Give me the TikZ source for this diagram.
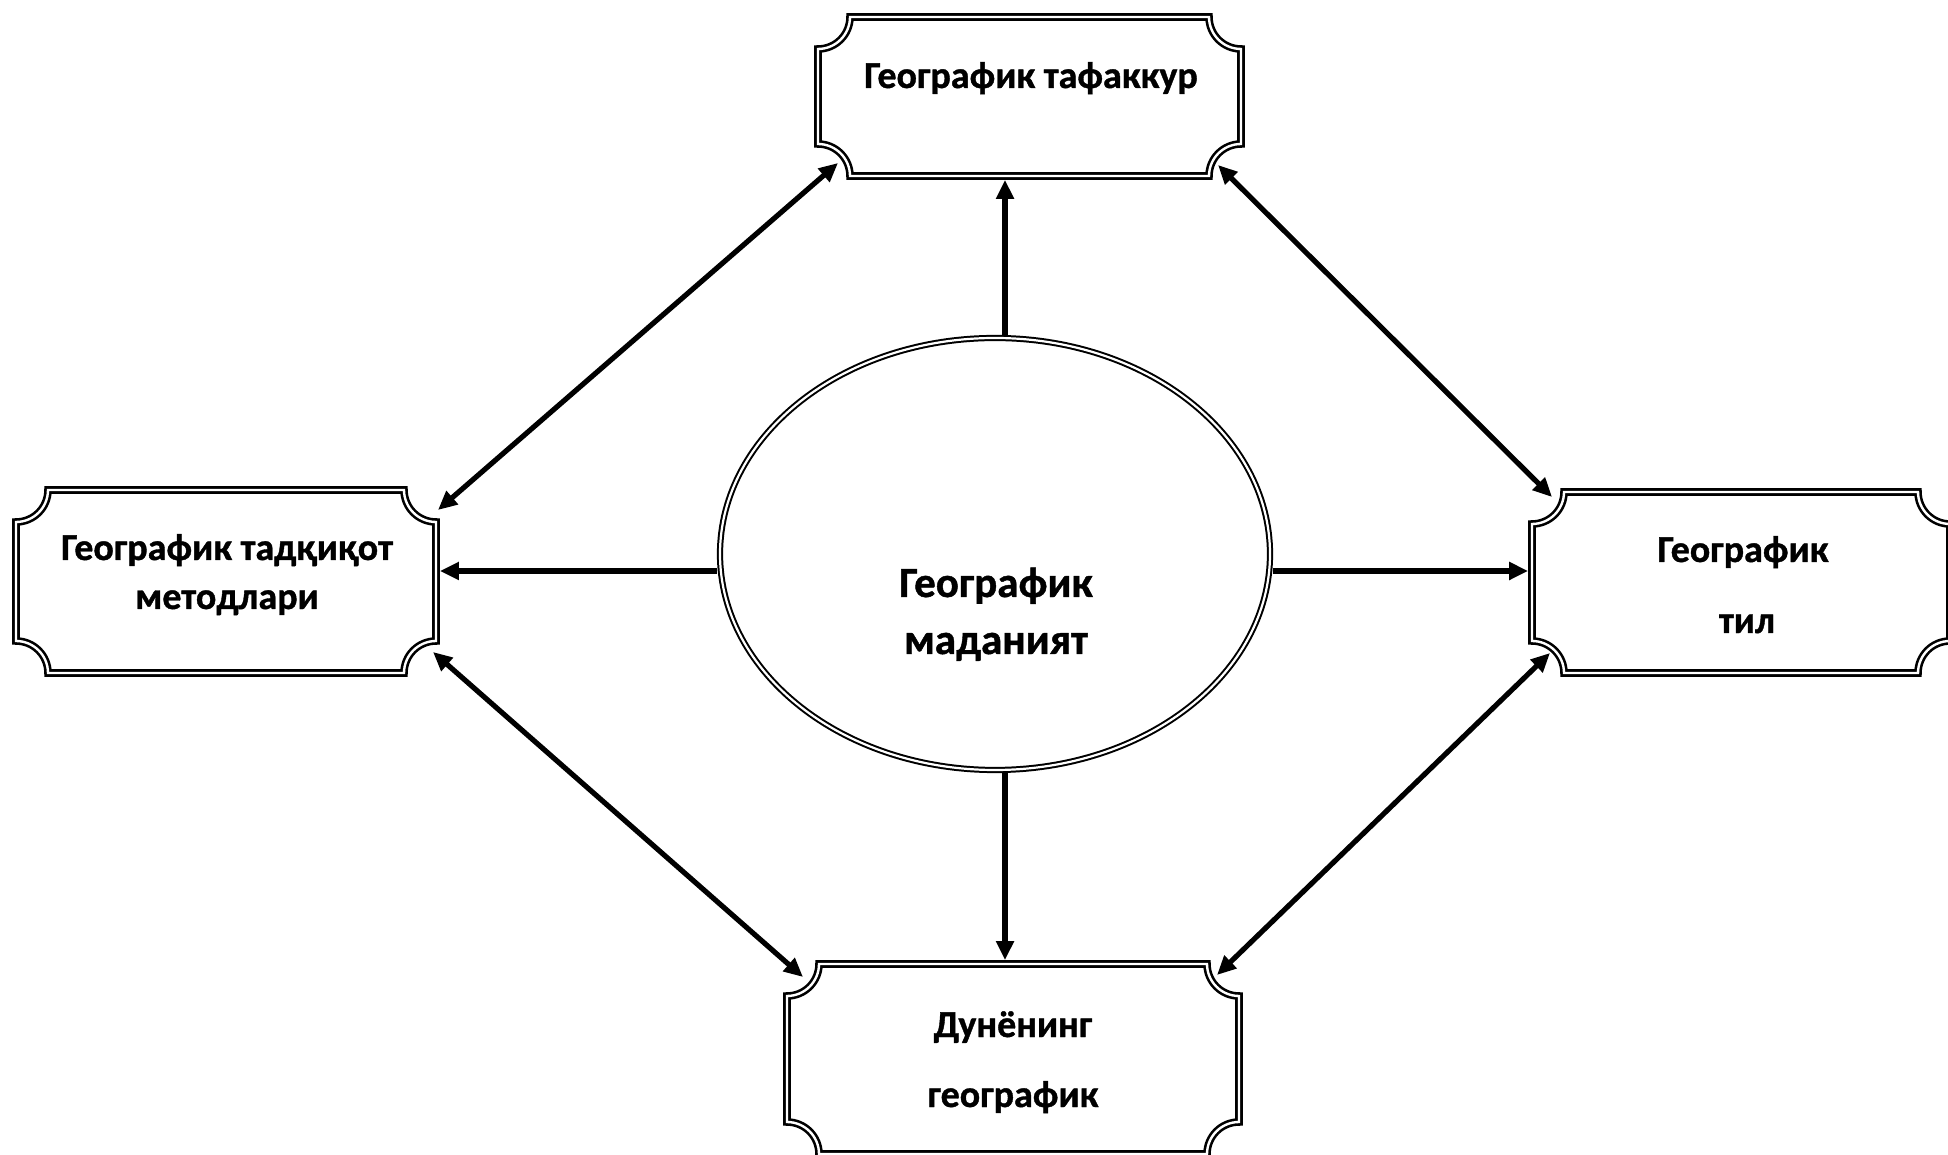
\documentclass[tikz,border=0pt]{standalone}
\usepackage{fontspec}
\setmainfont{Carlito}[BoldFeatures={FakeBold=1}]
\usetikzlibrary{calc,shapes.geometric,arrows.meta}
\newcommand\pr{32pt}
\newcommand\drawplaque[1]{%
  \draw[frameline] ($(#1.south west)+(0,\pr)$) -- ($(#1.north west)+(0,-\pr)$)
    arc[start angle=270,end angle=360,radius=\pr] -- ($(#1.north east)+(-\pr,0)$)
    arc[start angle=180,end angle=270,radius=\pr] -- ($(#1.south east)+(0,\pr)$)
    arc[start angle=90,end angle=180,radius=\pr] -- ($(#1.south west)+(\pr,0)$)
    arc[start angle=0,end angle=90,radius=\pr] -- cycle;}
\tikzset{
  plaque/.style={shape=rectangle,inner sep=0pt,outer sep=0pt,draw=none},
  frameline/.style={draw=black,line width=2.6pt,double=white,double distance=2.4pt,line join=miter},
  ellbox/.style={shape=ellipse,inner sep=0pt,outer sep=3pt,draw=black,line width=2pt,double=white,double distance=2.2pt},
  lbl/.style={font=\fontsize{38}{46}\selectfont\bfseries,anchor=base,inner sep=0pt},
  biglbl/.style={font=\fontsize{43}{52}\selectfont\bfseries,anchor=base,inner sep=0pt},
  arr/.style={line width=5.2pt,-{Triangle[length=19pt,width=17pt]}},
  biarr/.style={line width=5.2pt,{Triangle[length=19pt,width=17pt]}-{Triangle[length=19pt,width=17pt]}}
}
\begin{document}
\begin{tikzpicture}[x=1pt,y=1pt]
\useasboundingbox (0,0) rectangle (1948,1154);
\clip (0,0) rectangle (1948,1154);
\fill[white] (0,0) rectangle (1948,1154);
% frames
\node[plaque,minimum width=423pt,minimum height=159pt] (top) at (1029.5,1057.5) {};
\node[plaque,minimum width=420pt,minimum height=183pt] (left) at (226,572.5) {};
\node[plaque,minimum width=418pt,minimum height=181pt] (right) at (1741,571.5) {};
\node[plaque,minimum width=452pt,minimum height=190pt] (bottom) at (1013,95) {};
\drawplaque{top}
\drawplaque{left}
\drawplaque{right}
\drawplaque{bottom}
\node[ellbox,minimum width=550pt,minimum height=432pt] (ell) at (995,600) {};
% texts
\node[lbl] (t1) at (1031,1066) {Географик тафаккур};
\node[lbl] (t2a) at (227,594) {Географик тадқиқот};
\node[lbl] (t2b) at (227,545) {методлари};
\node[lbl] (t3a) at (1743,592) {Географик};
\node[lbl] (t3b) at (1747,521) {тил};
\node[lbl] (t4a) at (1013,117) {Дунёнинг};
\node[lbl] (t4b) at (1013,47) {географик};
\node[biglbl] (t5a) at (996,557) {Географик};
\node[biglbl] (t5b) at (996,500) {маданият};
% straight arrows from the ellipse
\coordinate (a1) at ($(ell.north)+(10,0)$);
\draw[arr] (a1) -- ($(a1 |- top.south)+(0,-3.8)$);
\coordinate (a2) at ($(ell.south)+(10,0)$);
\draw[arr] (a2) -- ($(a2 |- bottom.north)+(0,3.8)$);
\coordinate (a3) at ($(ell.west)+(0,-17)$);
\draw[arr] (a3) -- ($(a3 -| left.east)+(3.8,0)$);
\coordinate (a4) at ($(ell.east)+(0,-17)$);
\draw[arr] (a4) -- ($(a4 -| right.west)+(-3.8,0)$);
% diagonal double arrows
\draw[biarr] ($(left.north east)+(2,-20)$) -- ($(top.south west)+(20,13)$);
\draw[biarr] ($(top.south east)+(-23,11)$) -- ($(right.north west)+(20,-5)$);
\draw[biarr] ($(left.south east)+(-3,21)$) -- ($(bottom.north west)+(16,-13)$);
\draw[biarr] ($(right.south west)+(18,20)$) -- ($(bottom.north east)+(-22,-11)$);
\end{tikzpicture}
\end{document}
